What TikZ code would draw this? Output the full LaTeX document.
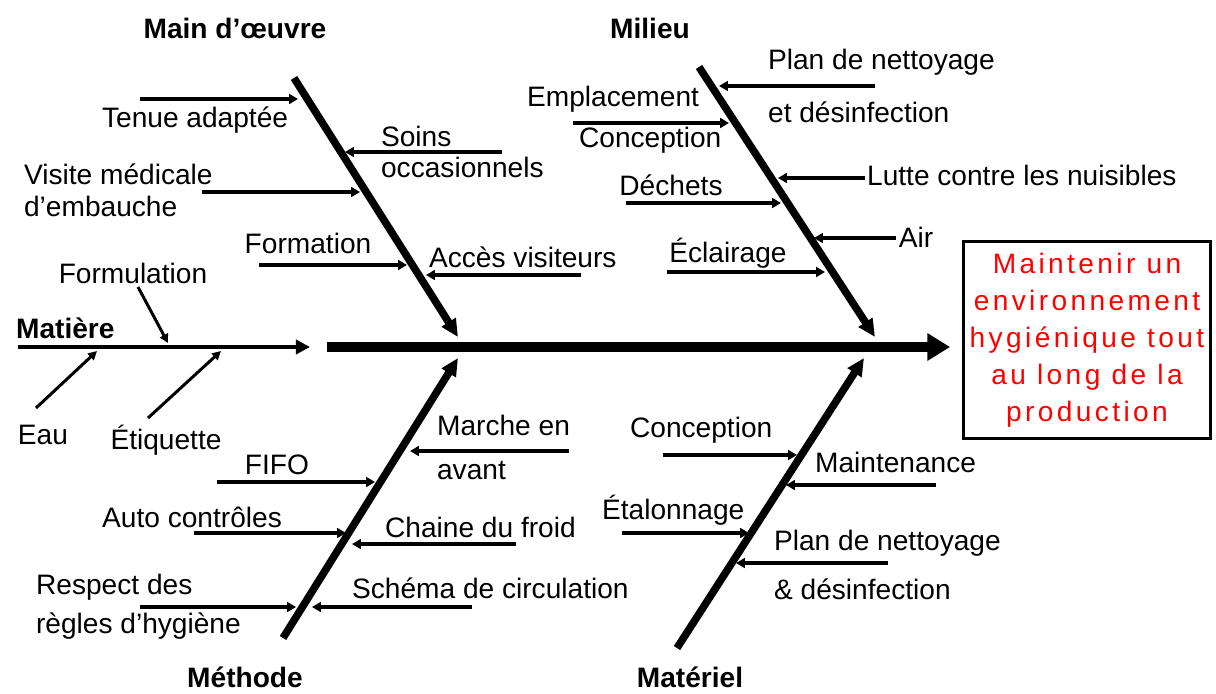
\documentclass[tikz,border=0pt]{standalone}
\usepackage{fontspec}
\setmainfont{Liberation Sans}
\newfontfamily\effectfont[LetterSpace=12]{Liberation Sans}
\usetikzlibrary{arrows.meta}

\begin{document}
\begin{tikzpicture}[x=0.02cm, y=-0.02cm, font=\fontsize{16}{18}\selectfont,
  cause/.style={inner sep=1pt},
  category/.style={inner sep=1pt, font=\fontsize{16}{18}\selectfont\bfseries},
  effect/.style={draw, line width=1.7pt, minimum width=4.92cm, minimum height=3.94cm, align=center, text=red, font=\effectfont\fontsize{16}{21}\selectfont},
  sub/.style={line width=1.8pt, -{Triangle[length=5pt,width=5.5pt]}},
  twig/.style={line width=1.7pt, -{Triangle[length=5pt,width=5pt]}},
  bone/.style={line width=4.3pt, -{Triangle[length=10pt,width=9pt]}},
  feeder/.style={line width=2.8pt, -{Triangle[length=8pt,width=8pt]}},
  spine/.style={line width=6pt, -{Triangle[length=13pt,width=15pt]}}]
\useasboundingbox (0,0) rectangle (1216,693);

% effet
\node[effect] (goal) at (1087,340) {Maintenir un\\environnement\\hygiénique tout\\au long de la\\production};
\coordinate (spine a) at (327,347);
\draw[spine, shorten >=7pt] (spine a) -- (spine a -| goal.west);

% categories
\node[category] (mo) at (235,28) {Main d'œuvre};
\node[category] (milieu) at (650,28) {Milieu};
\node[category] (methode) at (245,677) {Méthode};
\node[category] (materiel) at (690,677) {Matériel};
\node[category, anchor=west] (matiere) at (14,328) {Matière};

% aretes
\coordinate (mo a) at (294,78);   \coordinate (mo b) at (458,337);
\coordinate (mil a) at (699,67);  \coordinate (mil b) at (875,337);
\coordinate (met a) at (283,638); \coordinate (met b) at (458,358);
\coordinate (mat a) at (677,648); \coordinate (mat b) at (864,358);
\coordinate (mtr a) at (18,347);  \coordinate (mtr b) at (310,347);
\draw[bone] (mo a) -- (mo b);
\draw[bone] (mil a) -- (mil b);
\draw[bone] (met a) -- (met b);
\draw[bone] (mat a) -- (mat b);
\draw[feeder] (mtr a) -- (mtr b);

% main d'oeuvre
\node[cause, anchor=west] (tenue) at (100,120) {Tenue adaptée};
\node[cause, anchor=west, align=left] (soins) at (379,152) {Soins\\occasionnels};
\node[cause, anchor=west, align=left] (visite) at (22,190) {Visite médicale\\d'embauche};
\node[cause] (formation) at (308,243) {Formation};
\node[cause, anchor=west] (acces) at (427,257) {Accès visiteurs};
\coordinate (tenue a) at (140,99);  \coordinate (tenue b) at (298,99);
\coordinate (soins a) at (502,152); \coordinate (soins b) at (345,152);
\coordinate (visite a) at (202,192); \coordinate (visite b) at (360,192);
\coordinate (form a) at (259,265);  \coordinate (form b) at (407,265);
\coordinate (acces a) at (581,275); \coordinate (acces b) at (426,275);
\draw[sub] (tenue a) -- (tenue b);
\draw[sub] (soins a) -- (soins b);
\draw[sub] (visite a) -- (visite b);
\draw[sub] (form a) -- (form b);
\draw[sub] (acces a) -- (acces b);

% matiere
\node[cause] (formul) at (133,273) {Formulation};
\node[cause] (eau) at (43,435) {Eau};
\node[cause] (etiq) at (166,440) {Étiquette};
\coordinate (formul a) at (138,287); \coordinate (formul b) at (168,343);
\coordinate (eau a) at (36,408);     \coordinate (eau b) at (97,351);
\coordinate (etiq a) at (148,418);   \coordinate (etiq b) at (221,351);
\draw[twig] (formul a) -- (formul b);
\draw[twig] (eau a) -- (eau b);
\draw[twig] (etiq a) -- (etiq b);

% milieu
\node[cause, anchor=west, align=left] (plan) at (766,86) {Plan de nettoyage\\[12pt]et désinfection};
\node[cause, anchor=west] (emplac) at (525,99) {Emplacement};
\node[cause, anchor=west] (concep) at (577,140) {Conception};
\node[cause, anchor=west] (lutte) at (865,175) {Lutte contre les nuisibles};
\node[cause] (dechets) at (671,185) {Déchets};
\node[cause] (air) at (916,237) {Air};
\node[cause] (eclair) at (728,253) {Éclairage};
\coordinate (plan a) at (875,86);    \coordinate (plan b) at (719,86);
\coordinate (emplac a) at (573,123); \coordinate (emplac b) at (729,123);
\coordinate (lutte a) at (865,178);  \coordinate (lutte b) at (778,178);
\coordinate (dech a) at (626,203);   \coordinate (dech b) at (781,203);
\coordinate (air a) at (896,238);    \coordinate (air b) at (814,238);
\coordinate (ecl a) at (667,272);    \coordinate (ecl b) at (825,272);
\draw[sub] (plan a) -- (plan b);
\draw[sub] (emplac a) -- (emplac b);
\draw[sub] (lutte a) -- (lutte b);
\draw[sub] (dech a) -- (dech b);
\draw[sub] (air a) -- (air b);
\draw[sub] (ecl a) -- (ecl b);

% methode
\node[cause, anchor=west, align=left] (marche) at (435,447) {Marche en\\[7pt]avant};
\node[cause] (fifo) at (277,465) {FIFO};
\node[cause] (auto) at (192,517) {Auto contrôles};
\node[cause, anchor=west] (chaine) at (383,527) {Chaine du froid};
\node[cause, anchor=west, align=left] (respect) at (34,607) {Respect des\\[4pt]règles d'hygiène};
\node[cause, anchor=west] (schema) at (350,588) {Schéma de circulation};
\coordinate (marche a) at (569,451); \coordinate (marche b) at (410,451);
\coordinate (fifo a) at (217,482);   \coordinate (fifo b) at (375,482);
\coordinate (auto a) at (194,533);   \coordinate (auto b) at (346,533);
\coordinate (chaine a) at (516,544); \coordinate (chaine b) at (352,544);
\coordinate (resp a) at (140,607);   \coordinate (resp b) at (296,607);
\coordinate (schema a) at (472,607); \coordinate (schema b) at (312,607);
\draw[sub] (marche a) -- (marche b);
\draw[sub] (fifo a) -- (fifo b);
\draw[sub] (auto a) -- (auto b);
\draw[sub] (chaine a) -- (chaine b);
\draw[sub] (resp a) -- (resp b);
\draw[sub] (schema a) -- (schema b);

% materiel
\node[cause, anchor=west] (concmat) at (628,430) {Conception};
\node[cause, anchor=west] (maint) at (813,462) {Maintenance};
\node[cause, anchor=west] (etal) at (600,510) {Étalonnage};
\node[cause, anchor=west, align=left] (planmat) at (772,565) {Plan de nettoyage\\[10pt]\& désinfection};
\coordinate (concmat a) at (663,455); \coordinate (concmat b) at (797,455);
\coordinate (maint a) at (936,485);   \coordinate (maint b) at (786,485);
\coordinate (etal a) at (622,533);    \coordinate (etal b) at (749,533);
\coordinate (planmat a) at (888,563); \coordinate (planmat b) at (736,563);
\draw[sub] (concmat a) -- (concmat b);
\draw[sub] (maint a) -- (maint b);
\draw[sub] (etal a) -- (etal b);
\draw[sub] (planmat a) -- (planmat b);
\end{tikzpicture}
\end{document}
